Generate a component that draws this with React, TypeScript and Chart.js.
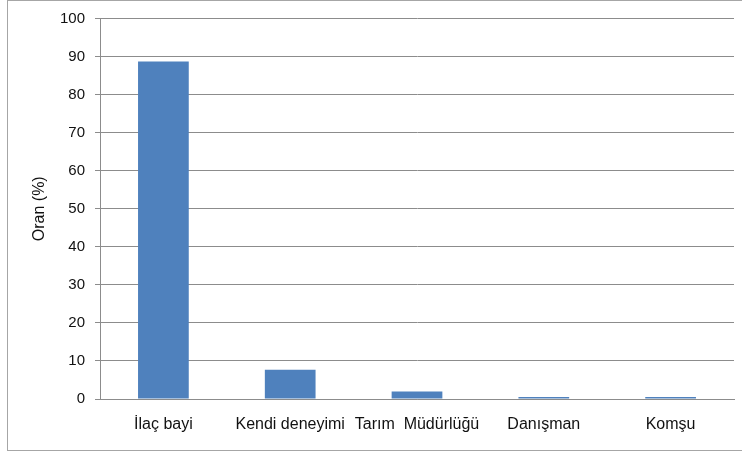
import React, { useEffect, useRef } from "react";
import { Chart, registerables } from "chart.js";

Chart.register(...registerables);

const categories = ["İlaç bayi", "Kendi deneyimi", "Tarım  Müdürlüğü", "Danışman", "Komşu"];
const values = [88.7, 7.7, 2.0, 0.5, 0.5];
const yTicks = [0, 10, 20, 30, 40, 50, 60, 70, 80, 90, 100];
const yTitle = "Oran (%)";

export default function App() {
  const ref = useRef<HTMLCanvasElement | null>(null);
  useEffect(() => {
    if (!ref.current) return;
    const font = "'Liberation Sans', Arial, sans-serif";
    const chart = new Chart(ref.current, {
      type: "bar",
      data: {
        labels: categories,
        datasets: [
          {
            data: values,
            backgroundColor: "#4f81bd",
            borderWidth: 0,
            barPercentage: 0.4,
            categoryPercentage: 1,
          },
        ],
      },
      options: {
        animation: false,
        responsive: false,
        maintainAspectRatio: false,
        layout: { padding: { top: 17, right: 6, left: 22, bottom: 0 } },
        plugins: { legend: { display: false }, tooltip: { enabled: false } },
        scales: {
          x: {
            grid: { display: false, drawTicks: false },
            border: { display: true, color: "#8c8c8c", width: 1 },
            ticks: { color: "#111", font: { family: font, size: 16 }, padding: 16, maxRotation: 0, autoSkip: false },
            afterFit: (s: any) => { s.height = 51; },
          },
          y: {
            min: 0,
            max: 100,
            afterBuildTicks: (s: any) => { s.ticks = yTicks.map((v) => ({ value: v })); },
            grid: { color: "#8c8c8c", lineWidth: 1, tickLength: 5, drawTicks: true },
            border: { display: true, color: "#8c8c8c", width: 1 },
            ticks: { color: "#111", font: { family: font, size: 15, lineHeight: 1 }, padding: 10 },
            title: { display: true, text: yTitle, color: "#111", font: { family: font, size: 16 }, padding: { top: 0, bottom: 0 } },
            afterFit: (s: any) => { s.width = 70; },
          },
        },
      },
    });
    return () => chart.destroy();
  }, []);
  return (
    <div style={{ position: "absolute", left: 7, top: 0, width: 740, height: 449, border: "1px solid #a6a6a6", background: "#fff" }}>
      <canvas ref={ref} width={732} height={449} style={{ position: "absolute", left: 0, top: 0 }} />
    </div>
  );
}
